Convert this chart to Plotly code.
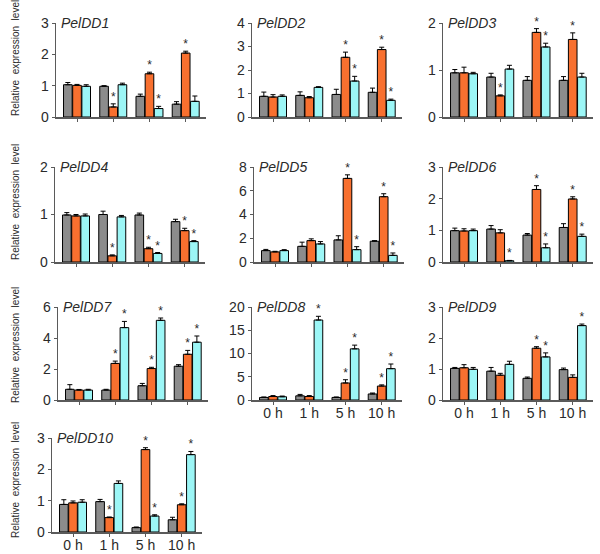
import numpy as np
import plotly.graph_objects as go

# ---------------- data ----------------
TIMES = ["0 h", "1 h", "5 h", "10 h"]
GENES = ["PelDD1", "PelDD2", "PelDD3", "PelDD4", "PelDD5",
         "PelDD6", "PelDD7", "PelDD8", "PelDD9", "PelDD10"]

GRAY_MEAN = [
    [1.03, 0.98, 0.66, 0.41],
    [0.88, 0.92, 0.96, 1.05],
    [0.94, 0.85, 0.78, 0.78],
    [0.99, 1.00, 0.99, 0.85],
    [0.96, 1.32, 1.86, 1.75],
    [0.99, 1.04, 0.85, 1.09],
    [0.69, 0.64, 0.92, 2.18],
    [0.55, 0.90, 0.55, 1.30],
    [1.02, 0.93, 0.70, 0.98],
    [0.88, 0.97, 0.14, 0.39],
]
GRAY_ERR = [
    [0.07, 0.02, 0.07, 0.08],
    [0.18, 0.15, 0.22, 0.18],
    [0.07, 0.08, 0.08, 0.08],
    [0.05, 0.07, 0.04, 0.05],
    [0.10, 0.35, 0.35, 0.05],
    [0.08, 0.11, 0.05, 0.12],
    [0.30, 0.05, 0.15, 0.10],
    [0.10, 0.30, 0.10, 0.20],
    [0.03, 0.12, 0.04, 0.05],
    [0.15, 0.07, 0.02, 0.08],
]
ORANGE_MEAN = [
    [1.01, 0.32, 1.38, 2.04],
    [0.85, 0.82, 2.54, 2.87],
    [0.94, 0.45, 1.80, 1.65],
    [0.97, 0.13, 0.28, 0.66],
    [0.85, 1.80, 7.04, 5.50],
    [0.98, 0.92, 2.29, 1.99],
    [0.64, 2.36, 2.03, 2.95],
    [0.75, 0.75, 3.66, 3.00],
    [1.04, 0.80, 1.67, 0.73],
    [0.93, 0.46, 2.63, 0.87],
]
ORANGE_ERR = [
    [0.03, 0.10, 0.05, 0.06],
    [0.10, 0.05, 0.22, 0.10],
    [0.12, 0.02, 0.08, 0.14],
    [0.03, 0.02, 0.03, 0.05],
    [0.05, 0.15, 0.30, 0.25],
    [0.07, 0.10, 0.12, 0.07],
    [0.04, 0.15, 0.08, 0.25],
    [0.20, 0.20, 0.70, 0.25],
    [0.10, 0.06, 0.05, 0.08],
    [0.06, 0.02, 0.06, 0.03],
]
CYAN_MEAN = [
    [0.98, 1.03, 0.27, 0.50],
    [0.88, 1.26, 1.53, 0.71],
    [0.92, 1.02, 1.49, 0.85],
    [0.97, 0.95, 0.18, 0.43],
    [0.96, 1.52, 1.04, 0.56],
    [0.99, 0.04, 0.45, 0.81],
    [0.64, 4.67, 5.14, 3.73],
    [0.70, 17.2, 11.0, 6.74],
    [0.99, 1.15, 1.39, 2.40],
    [0.95, 1.55, 0.51, 2.47],
]
CYAN_ERR = [
    [0.05, 0.05, 0.07, 0.17],
    [0.06, 0.03, 0.20, 0.05],
    [0.03, 0.08, 0.08, 0.08],
    [0.04, 0.03, 0.02, 0.02],
    [0.08, 0.20, 0.25, 0.20],
    [0.05, 0.01, 0.12, 0.07],
    [0.05, 0.40, 0.15, 0.40],
    [0.15, 0.80, 0.80, 1.00],
    [0.06, 0.10, 0.13, 0.05],
    [0.08, 0.08, 0.04, 0.10],
]
# significance marks (1 = asterisk)
ORANGE_SIG = [
    [0, 1, 1, 1], [0, 0, 1, 1], [0, 1, 1, 1], [0, 1, 1, 1], [0, 0, 1, 1],
    [0, 0, 1, 1], [0, 1, 1, 1], [0, 0, 1, 1], [0, 0, 1, 0], [0, 1, 1, 1],
]
CYAN_SIG = [
    [0, 0, 1, 0], [0, 0, 1, 1], [0, 0, 1, 0], [0, 0, 1, 1], [0, 0, 1, 1],
    [0, 1, 1, 1], [0, 1, 1, 1], [0, 1, 1, 1], [0, 0, 1, 1], [0, 0, 1, 1],
]
Y_MAX = [3, 4, 2, 2, 8, 3, 6, 20, 3, 3]
Y_DTICK = [1, 1, 1, 1, 2, 1, 2, 5, 1, 1]

# ---------------- layout geometry (pixels) ----------------
W, H = 600, 554
PANEL_W = 150
# (axis-left x, top y, bottom y) per panel
PANEL_BOX = [
    (56, 23, 117), (252, 23, 117), (443, 23, 117),
    (55, 167, 262), (254, 167, 262), (443, 167, 262),
    (58, 307, 400), (252, 307, 400), (443, 307, 400),
    (52, 438, 532),
]
SHOW_XLABELS = [False, False, False, False, False, False, False, True, True, True]
ROW_TITLE_Y = [58, 202, 345, 480]

GRAY_C = "#8C8C8C"
ORANGE_C = "#F8702F"
CYAN_C = "#9CF6F6"
AXIS_C = "#5A5A5A"
TEXT_C = "#2A2A2A"
FONT = "Arial, Liberation Sans, sans-serif"

BARGAP = 0.24
NSER = 3
SLOT = (1 - BARGAP) / NSER

fig = go.Figure()
xs = np.arange(len(TIMES))

for i, gene in enumerate(GENES):
    ax = "" if i == 0 else str(i + 1)
    xa, ya = "x" + ax, "y" + ax
    series = [
        (GRAY_MEAN[i], GRAY_ERR[i], GRAY_C, None),
        (ORANGE_MEAN[i], ORANGE_ERR[i], ORANGE_C, ORANGE_SIG[i]),
        (CYAN_MEAN[i], CYAN_ERR[i], CYAN_C, CYAN_SIG[i]),
    ]
    for k, (vals, errs, col, sig) in enumerate(series):
        fig.add_trace(go.Bar(
            x=xs, y=vals, xaxis=xa, yaxis=ya,
            marker=dict(color=col, line=dict(color="black", width=1)),
            error_y=dict(type="data", array=errs, arrayminus=[0] * len(errs),
                         symmetric=False, color="black", thickness=1, width=2.5),
            showlegend=False, hoverinfo="skip",
        ))
        if sig is not None:
            sx = [xs[j] + (k - 1) * SLOT for j in range(len(vals)) if sig[j]]
            sy = [vals[j] + errs[j] for j in range(len(vals)) if sig[j]]
            fig.add_trace(go.Scatter(
                x=sx, y=sy, xaxis=xa, yaxis=ya, mode="text",
                text=["*"] * len(sx), textposition="top center",
                textfont=dict(size=12, color=TEXT_C, family=FONT),
                showlegend=False, hoverinfo="skip", cliponaxis=False,
            ))

    left, top, bottom = PANEL_BOX[i]
    xdom = [left / W, (left + PANEL_W) / W]
    ydom = [1 - bottom / H, 1 - top / H]
    xkey = "xaxis" + ax
    ykey = "yaxis" + ax
    fig.layout[xkey] = dict(
        domain=xdom, anchor=ya, range=[-0.58, 3.56], automargin=False,
        tickvals=list(xs), ticktext=TIMES, showticklabels=SHOW_XLABELS[i],
        ticks="outside", ticklen=3, tickcolor=AXIS_C, tickwidth=1,
        ticklabelstandoff=-3,
        showline=True, linecolor=AXIS_C, linewidth=1.5,
        showgrid=False, zeroline=False, fixedrange=True,
        tickfont=dict(size=14, color=TEXT_C, family=FONT),
    )
    fig.layout[ykey] = dict(
        domain=ydom, anchor=xa, range=[0, Y_MAX[i]], automargin=False,
        tick0=0, dtick=Y_DTICK[i],
        ticks="outside", ticklen=3, tickcolor=AXIS_C, tickwidth=1,
        showline=True, linecolor=AXIS_C, linewidth=1.5,
        showgrid=False, zeroline=False, fixedrange=True,
        tickfont=dict(size=14, color=TEXT_C, family=FONT),
    )
    fig.add_annotation(
        text="<i>" + gene + "</i>", xref=xa + " domain", yref=ya + " domain",
        x=0, y=1, xanchor="left", yanchor="middle", xshift=3,
        showarrow=False, font=dict(size=14, color=TEXT_C, family=FONT),
    )

for yc in ROW_TITLE_Y:
    fig.add_annotation(
        text="Relative  expression  level", xref="paper", yref="paper",
        x=15 / W, y=1 - yc / H, xanchor="center", yanchor="middle",
        textangle=-90, showarrow=False,
        font=dict(size=10, color=TEXT_C, family=FONT),
    )

fig.update_layout(
    template="none",
    width=W, height=H, margin=dict(l=0, r=0, t=0, b=0, autoexpand=False),
    paper_bgcolor="white", plot_bgcolor="white",
    barmode="group", bargap=BARGAP, bargroupgap=0.06,
    font=dict(family=FONT, color=TEXT_C),
)

fig.write_html(
    "out.html",
    config={"displayModeBar": False, "staticPlot": True},
    post_script="document.body.style.margin='0';document.body.style.overflow='hidden';",
)
